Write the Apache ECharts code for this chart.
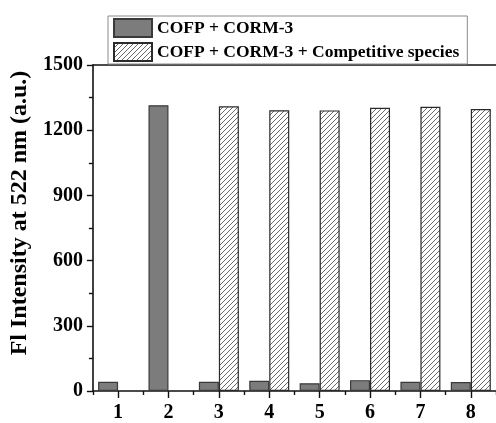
<!DOCTYPE html>
<html>
<head>
<meta charset="utf-8">
<script src="https://cdn.jsdelivr.net/npm/echarts@6/dist/echarts.min.js"></script>
<style>
  html, body { margin: 0; padding: 0; background: #fff; }
  #chart { width: 496px; height: 423px; }
</style>
</head>
<body>
<div id="chart"></div>
<script>
// Sample numbers along the x axis
const categories = ['1', '2', '3', '4', '5', '6', '7', '8'];
// Fluorescence intensity at 522 nm (a.u.)
const probeOnly = [42, 1315, 42, 47, 36, 50, 42, 41];
const withCompetitors = [null, null, 1310, 1292, 1291, 1303, 1308, 1297];
const seriesNames = ['COFP + CORM-3', 'COFP + CORM-3 + Competitive species'];
const yTicks = { min: 0, max: 1500, interval: 300 };

const FONT = '"Liberation Serif", "Times New Roman", serif';

// Diagonal hatch tile used as the fill of the second series
function hatchTile() {
  const s = 5;
  const c = document.createElement('canvas');
  c.width = s; c.height = s;
  const g = c.getContext('2d');
  g.fillStyle = '#ffffff';
  g.fillRect(0, 0, s, s);
  g.strokeStyle = '#6a6a6a';
  g.lineWidth = 1;
  g.beginPath();
  g.moveTo(-1, s + 1); g.lineTo(s + 1, -1);
  g.moveTo(-1, 1); g.lineTo(1, -1);
  g.moveTo(s - 1, s + 1); g.lineTo(s + 1, s - 1);
  g.stroke();
  return c;
}

const chart = echarts.init(document.getElementById('chart'), null, { renderer: 'canvas' });

const axisLine = { show: true, lineStyle: { color: '#111', width: 1.6 } };

chart.setOption({
  animation: false,
  backgroundColor: '#fff',
  grid: { left: 91, top: 65, width: 411, height: 330, containLabel: false },
  legend: {
    orient: 'vertical',
    left: 108,
    top: 16,
    padding: [2, 8, 2, 5],
    itemWidth: 38,
    itemHeight: 18,
    itemGap: 4,
    borderColor: '#8a8a8a',
    borderWidth: 1,
    icon: 'rect',
    textStyle: { fontFamily: FONT, fontWeight: 'bold', fontSize: 17.5, color: '#000' },
    data: seriesNames
  },
  xAxis: [
    {
      type: 'category',
      data: categories,
      position: 'bottom',
      axisLine: axisLine,
      axisTick: { show: true, alignWithLabel: true, length: 7, lineStyle: { color: '#111', width: 1.4 } },
      axisLabel: { margin: 12, fontFamily: FONT, fontWeight: 'bold', fontSize: 20, color: '#000' },
      splitLine: { show: false }
    },
    {
      // minor ticks between the groups
      type: 'category',
      data: categories,
      position: 'bottom',
      axisLine: { show: false },
      axisTick: { show: true, length: 4, lineStyle: { color: '#111', width: 1.4 } },
      axisLabel: { show: false },
      splitLine: { show: false }
    },
    {
      // top frame line
      type: 'category',
      data: categories,
      position: 'top',
      axisLine: axisLine,
      axisTick: { show: false },
      axisLabel: { show: false },
      splitLine: { show: false }
    }
  ],
  yAxis: {
    type: 'value',
    min: yTicks.min,
    max: yTicks.max,
    interval: yTicks.interval,
    name: 'Fl Intensity at 522 nm (a.u.)',
    nameLocation: 'middle',
    nameGap: 57,
    nameTextStyle: { fontFamily: FONT, fontWeight: 'bold', fontSize: 24, color: '#000', padding: [0, 0, 0, 30] },
    axisLine: axisLine,
    axisTick: { show: true, length: 6, lineStyle: { color: '#111', width: 1.4 } },
    minorTick: { show: true, splitNumber: 2, length: 4, lineStyle: { color: '#111', width: 1.4 } },
    axisLabel: {
      margin: 10, fontFamily: FONT, fontWeight: 'bold', fontSize: 20, color: '#000',
      formatter: (v) => String(v)
    },
    splitLine: { show: false }
  },
  series: [
    {
      name: seriesNames[0],
      type: 'bar',
      xAxisIndex: 0,
      data: probeOnly,
      barWidth: 20,
      barGap: '0%',
      itemStyle: { color: '#7c7c7c', borderColor: '#3a3a3a', borderWidth: 1.2 }
    },
    {
      name: seriesNames[1],
      type: 'bar',
      xAxisIndex: 0,
      data: withCompetitors,
      barWidth: 20,
      barGap: '0%',
      itemStyle: { color: { image: hatchTile(), repeat: 'repeat' }, borderColor: '#2a2a2a', borderWidth: 1.2 }
    }
  ]
});
</script>
</body>
</html>
